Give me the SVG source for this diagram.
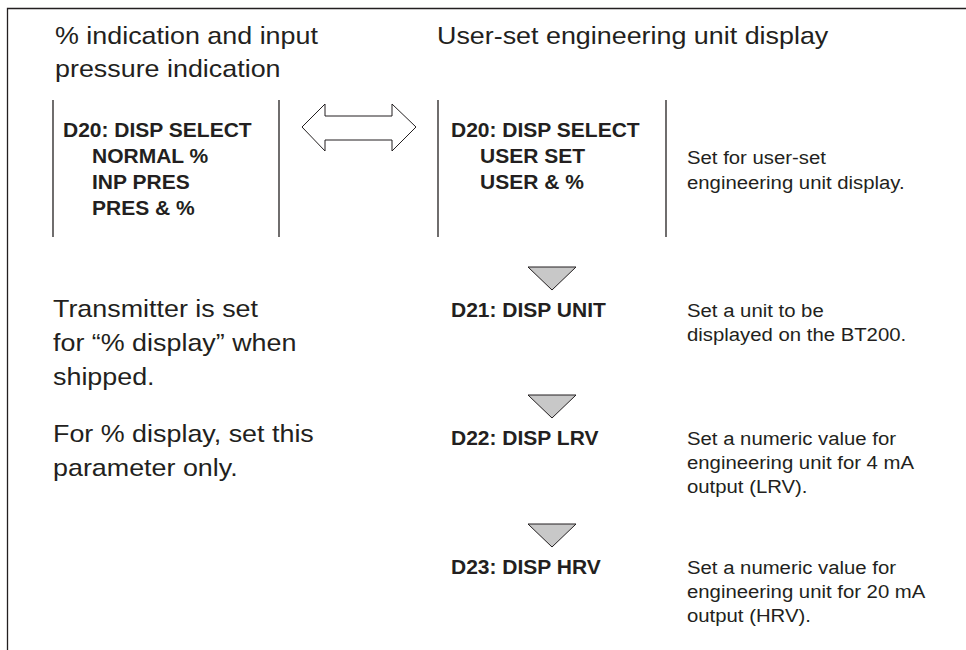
<svg xmlns="http://www.w3.org/2000/svg" width="966" height="650" viewBox="0 0 966 650">
<style>
.h{font-family:"Liberation Sans",Arial,sans-serif;font-size:24px;fill:#231f20}
.d{font-family:"Liberation Sans",Arial,sans-serif;font-size:18px;fill:#231f20}
.b{font-family:"Liberation Sans",Arial,sans-serif;font-size:21px;font-weight:bold;fill:#231f20}
.ln{stroke:#231f20;stroke-width:1.3;fill:none}
.tri{fill:#c8c8c8;stroke:#231f20;stroke-width:1}
</style>
<rect width="966" height="650" fill="#fff"/>
<path class="ln" d="M7.5,650 V8.5 H966" stroke-width="1.6"/>
<g id="headers">
<g transform="translate(55 0) scale(1.12 1)">
<text class="h" x="0" y="44">% indication and input</text>
<text class="h" x="0" y="77">pressure indication</text>
</g>
<g transform="translate(437 0) scale(1.12 1)">
<text class="h" x="0" y="44">User-set engineering unit display</text>
</g>
</g>
<g id="node-left-d20">
<line class="ln" x1="53" y1="100" x2="53" y2="237"/>
<line class="ln" x1="279" y1="100" x2="279" y2="237"/>
<text class="b" x="63" y="137">D20: DISP SELECT</text>
<text class="b" x="92" y="163">NORMAL %</text>
<text class="b" x="92" y="189">INP PRES</text>
<text class="b" x="92" y="215">PRES &amp; %</text>
</g>
<g id="node-right-d20">
<line class="ln" x1="438" y1="100" x2="438" y2="237"/>
<line class="ln" x1="666" y1="100" x2="666" y2="237"/>
<text class="b" x="451" y="137">D20: DISP SELECT</text>
<text class="b" x="480" y="163">USER SET</text>
<text class="b" x="480" y="189">USER &amp; %</text>
<g transform="translate(687 0) scale(1.13 1)">
<text class="d" x="0" y="164">Set for user-set</text>
<text class="d" x="0" y="189">engineering unit display.</text>
</g>
</g>
<g id="connectors">
<polygon fill="#fff" stroke="#231f20" stroke-width="1" points="302,127 325,104 325,116 392,116 392,104 416,127 392,151 392,140 325,140 325,151"/>
<polygon class="tri" points="528,267 576,267 552,290"/>
<polygon class="tri" points="528,395 576,395 552,418"/>
<polygon class="tri" points="528,524 576,524 552,547"/>
</g>
<g id="note-left" transform="translate(53 0) scale(1.12 1)">
<text class="h" x="0" y="317">Transmitter is set</text>
<text class="h" x="0" y="351">for “% display” when</text>
<text class="h" x="0" y="385">shipped.</text>
<text class="h" x="0" y="442">For % display, set this</text>
<text class="h" x="0" y="476">parameter only.</text>
</g>
<g id="node-d21">
<text class="b" x="451" y="317">D21: DISP UNIT</text>
<g transform="translate(687 0) scale(1.13 1)">
<text class="d" x="0" y="317">Set a unit to be</text>
<text class="d" x="0" y="341">displayed on the BT200.</text>
</g>
</g>
<g id="node-d22">
<text class="b" x="451" y="445">D22: DISP LRV</text>
<g transform="translate(687 0) scale(1.13 1)">
<text class="d" x="0" y="445">Set a numeric value for</text>
<text class="d" x="0" y="469">engineering unit for 4 mA</text>
<text class="d" x="0" y="493">output (LRV).</text>
</g>
</g>
<g id="node-d23">
<text class="b" x="451" y="574">D23: DISP HRV</text>
<g transform="translate(687 0) scale(1.13 1)">
<text class="d" x="0" y="574">Set a numeric value for</text>
<text class="d" x="0" y="598">engineering unit for 20 mA</text>
<text class="d" x="0" y="622">output (HRV).</text>
</g>
</g>
</svg>
